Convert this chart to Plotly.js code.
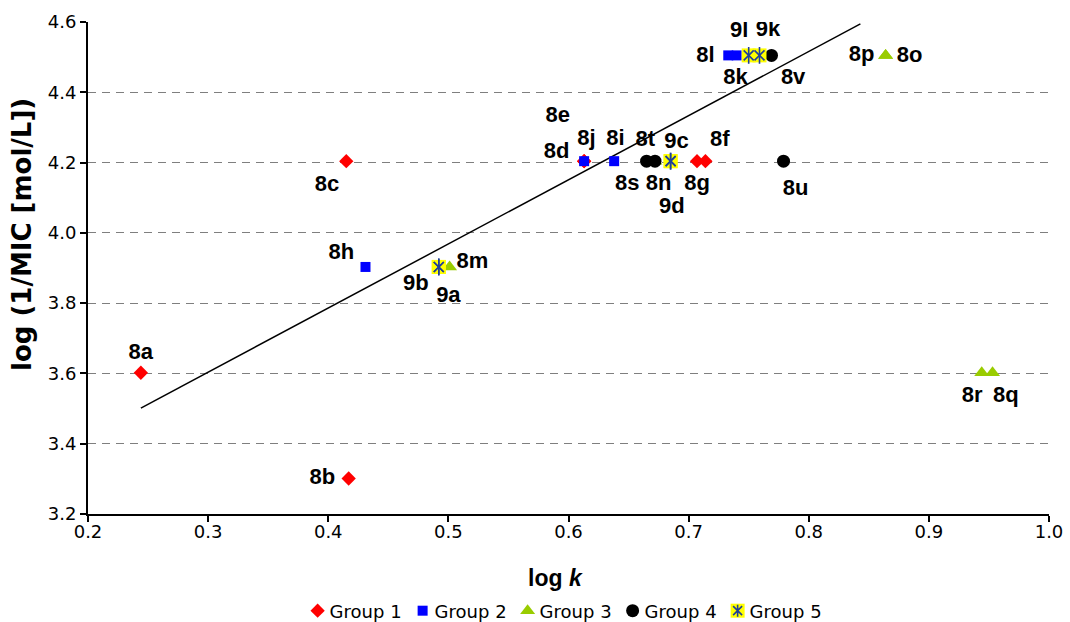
<!DOCTYPE html>
<html>
<head>
<meta charset="utf-8">
<script src="https://cdn.plot.ly/plotly-3.0.1.min.js"></script>
<style>
html,body{margin:0;padding:0;background:#fff;}
#chart{width:1070px;height:622px;}
</style>
</head>
<body>
<div id="chart"></div>
<script>
// ---- Data ----
var group1Names = ['8a','8b','8c','8d','8e','8f','8g'];
var group1X = [0.244, 0.417, 0.415, 0.613, 0.613, 0.714, 0.707];
var group1Y = [3.602, 3.301, 4.204, 4.204, 4.204, 4.204, 4.204];

var group2Names = ['8h','8i','8j','8k','8l'];
var group2X = [0.431, 0.638, 0.613, 0.740, 0.733];
var group2Y = [3.903, 4.204, 4.204, 4.505, 4.505];

var group3Names = ['8m','8n','8o','8p','8q','8r'];
var group3X = [0.501, 0.672, 0.864, 0.864, 0.953, 0.944];
var group3Y = [3.903, 4.204, 4.505, 4.505, 3.602, 3.602];

var group4Names = ['8s','8t','8u','8v'];
var group4X = [0.672, 0.665, 0.779, 0.769];
var group4Y = [4.204, 4.204, 4.204, 4.505];

var group5Names = ['9a','9b','9c','9d','9k','9l'];
var group5X = [0.492, 0.492, 0.685, 0.685, 0.759, 0.750];
var group5Y = [3.903, 3.903, 4.204, 4.204, 4.505, 4.505];

// compound labels as drawn in the chart
var labelText = ['8a','8b','8c','8e','8j','8d','8i','8t','9c','8f','8s','8n','8g','9d','8u',
                 '9l','9k','8l','8k','8v','8p','8o','8r','8q','8h','8m','9b','9a'];
var labelX = [0.244,0.395,0.399,0.591,0.615,0.590,0.639,0.664,0.690,0.726,0.649,0.675,0.707,0.686,0.789,
              0.742,0.766,0.714,0.739,0.787,0.844,0.884,0.936,0.964,0.411,0.520,0.473,0.500];
var labelY = [3.658,3.302,4.136,4.330,4.267,4.230,4.267,4.264,4.258,4.264,4.139,4.139,4.139,4.073,4.122,
              4.572,4.577,4.503,4.438,4.438,4.506,4.503,3.533,3.533,3.940,3.917,3.854,3.820];

// regression line
var fitSlope = 1.825;
var fitIntercept = 3.056;
var fitXRange = [0.244, 0.843];

var groupNames = ['Group 1','Group 2','Group 3','Group 4','Group 5'];
var xTicks = [0.2,0.3,0.4,0.5,0.6,0.7,0.8,0.9,1.0];
var yTicks = [3.2,3.4,3.6,3.8,4.0,4.2,4.4,4.6];
var xTitle = 'log <i>k</i>';
var yTitle = 'log (1/MIC [mol/L])';

// ---- Traces ----
var fitY = fitXRange.map(function(x){ return fitIntercept + fitSlope * x; });
var starColor = '#1f3f99';
var axisFont = 'DejaVu Sans, Verdana, sans-serif';
var labelFont = 'Liberation Sans, Arial, sans-serif';
var traces = [
  {x: fitXRange, y: fitY, mode: 'lines', line: {color: '#000', width: 1.5}, showlegend: false, hoverinfo: 'skip'},
  {x: group1X, y: group1Y, text: group1Names, name: groupNames[0], mode: 'markers',
   marker: {symbol: 'diamond', size: 11, color: '#ff0000'}},
  {x: group2X, y: group2Y, text: group2Names, name: groupNames[1], mode: 'markers',
   marker: {symbol: 'square', size: 10, color: '#0000ff'}},
  {x: group3X, y: group3Y, text: group3Names, name: groupNames[2], mode: 'markers',
   marker: {symbol: 'triangle-up', size: 13, color: '#99cc00'}},
  {x: group4X, y: group4Y, text: group4Names, name: groupNames[3], mode: 'markers',
   marker: {symbol: 'circle', size: 13, color: '#000000'}},
  {x: group5X, y: group5Y, text: group5Names, name: groupNames[4], mode: 'markers',
   marker: {symbol: 'square', size: 14, color: '#ffff00'}},
  {x: group5X, y: group5Y, mode: 'markers', showlegend: false, hoverinfo: 'skip',
   marker: {symbol: 'x-thin-open', size: 10, color: starColor, line: {color: starColor, width: 1.6}}},
  {x: group5X, y: group5Y, mode: 'markers', showlegend: false, hoverinfo: 'skip',
   marker: {symbol: 'line-ns-open', size: 12, color: starColor, line: {color: starColor, width: 1.6}}},
  {x: labelX, y: labelY, text: labelText, mode: 'text', showlegend: false, hoverinfo: 'skip',
   textposition: 'middle center',
   textfont: {family: labelFont, size: 22, color: '#000', weight: 'bold'}}
];

var layout = {
  width: 1070, height: 622,
  margin: {l: 88, r: 21, t: 22, b: 108, autoexpand: false},
  paper_bgcolor: '#fff', plot_bgcolor: '#fff',
  font: {family: axisFont, size: 18, color: '#000'},
  showlegend: true,
  legend: {orientation: 'h', x: 0.516, xanchor: 'center', xref: 'container',
           y: 0.0177, yanchor: 'middle', yref: 'container',
           font: {family: axisFont, size: 18}, itemwidth: 30, traceorder: 'normal', entrywidth: 60},
  xaxis: {
    range: [0.2, 1.0], tickvals: xTicks, ticktext: xTicks.map(function(v){return v.toFixed(1);}),
    showgrid: false, zeroline: false, showline: true, linecolor: '#000', linewidth: 2,
    ticks: 'outside', ticklen: 6, tickwidth: 2, tickcolor: '#000',
    tickfont: {family: axisFont, size: 18}, automargin: false, ticklabelstandoff: -6
  },
  yaxis: {
    range: [3.2, 4.6], tickvals: yTicks, ticktext: yTicks.map(function(v){return v.toFixed(1);}),
    showgrid: true, gridcolor: '#7f7f7f', gridwidth: 1, griddash: '8px,6px',
    zeroline: false, showline: true, linecolor: '#000', linewidth: 2,
    ticks: 'outside', ticklen: 6, tickwidth: 2, tickcolor: '#000',
    tickfont: {family: axisFont, size: 18}, automargin: false
  },
  annotations: [{
    text: yTitle, textangle: -90, showarrow: false,
    xref: 'paper', x: (22 - 88) / 961, xanchor: 'center',
    yref: 'paper', y: (514 - 235) / 492, yanchor: 'middle',
    font: {size: 26, weight: 'bold', family: axisFont, color: '#000'}
  }, {
    text: xTitle, showarrow: false,
    xref: 'paper', x: (555 - 88) / 961, xanchor: 'center',
    yref: 'paper', y: (514 - 578) / 492, yanchor: 'middle',
    font: {size: 23, weight: 'bold', family: labelFont, color: '#000'}
  }]
};

Plotly.newPlot('chart', traces, layout, {staticPlot: true}).then(function(gd){
  var ns = 'http://www.w3.org/2000/svg';
  // let legend texts overflow their fixed entry width
  gd.querySelectorAll('.legend [clip-path]').forEach(function(e){ e.removeAttribute('clip-path'); });
  var items = gd.querySelectorAll('.legend .traces');
  items.forEach(function(it){
    var pts = it.querySelector('.legendpoints');
    if (!pts) return;
    // bring the legend symbol closer to its text
    pts.setAttribute('transform', 'translate(8,0)');
    var t = it.querySelector('text.legendtext');
    if (t && t.textContent === groupNames[4]) {
      // add the asterisk glyph onto the Group 5 legend symbol
      var p = document.createElementNS(ns, 'path');
      p.setAttribute('d', 'M0,-6V6M-4.5,-4.5L4.5,4.5M4.5,-4.5L-4.5,4.5');
      p.setAttribute('transform', 'translate(20,0)');
      p.setAttribute('style', 'stroke:' + starColor + ';stroke-width:1.6px;fill:none');
      pts.appendChild(p);
    }
  });
});
</script>
</body>
</html>
